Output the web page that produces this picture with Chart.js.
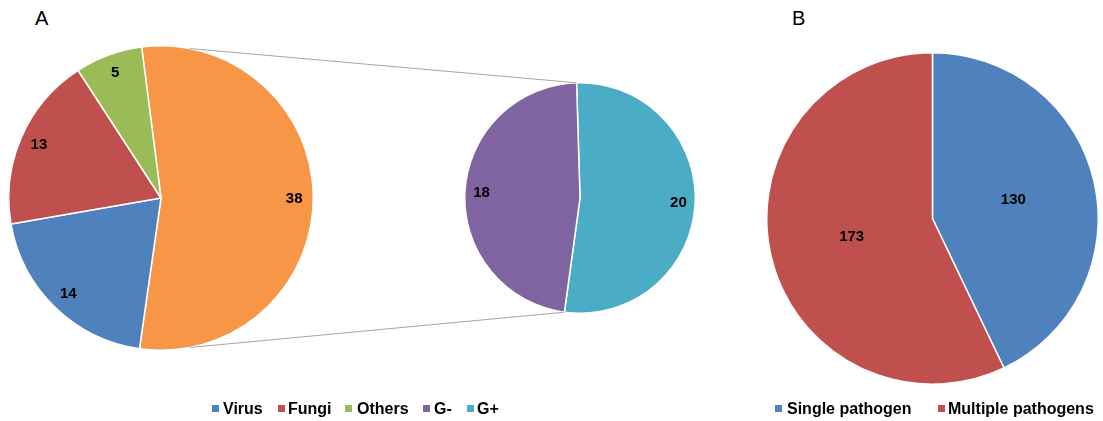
<!DOCTYPE html>
<html>
<head>
<meta charset="utf-8">
<script src="https://cdn.jsdelivr.net/npm/chart.js@4.4.0/dist/chart.umd.min.js"></script>
<style>
  html, body { margin: 0; padding: 0; background: #fff; }
  #stage { position: relative; width: 1103px; height: 421px; overflow: hidden; font-family: "Liberation Sans", Arial, sans-serif; }
  .box { position: absolute; }
  .title { position: absolute; font-size: 20px; color: #000; line-height: 1; }
  .leg { position: absolute; top: 401px; font-size: 16px; font-weight: bold; color: #000; line-height: 16px; white-space: nowrap; }
  .mk { position: absolute; top: 405px; width: 7px; height: 7px; }
  #overlay { position: absolute; left: 0; top: 0; pointer-events: none; }
</style>
</head>
<body>
<div id="stage">
  <div class="title" style="left:35px; top:8px;">A</div>
  <div class="title" style="left:792px; top:8px;">B</div>
  <div class="box" style="left:8px; top:45px; width:306px; height:306px;"><canvas id="cA"></canvas></div>
  <div class="box" style="left:464px; top:82px; width:232px; height:232px;"><canvas id="cG"></canvas></div>
  <div class="box" style="left:766px; top:52px; width:333px; height:333px;"><canvas id="cB"></canvas></div>
  <canvas id="overlay" width="1103" height="421"></canvas>
  <div id="legA"></div>
  <div id="legB"></div>
</div>
<script>
// ---- Data ----
const pieACategories = ["Bacteria", "Virus", "Fungi", "Others"];
const pieAValues = [38, 14, 13, 5];
const pieAColors = ["#F79646", "#4F81BD", "#C0504D", "#9BBB59"];

const bacteriaCategories = ["G+", "G-"];
const bacteriaValues = [20, 18];
const bacteriaColors = ["#4BACC6", "#8064A2"];

const pieBCategories = ["Single pathogen", "Multiple pathogens"];
const pieBValues = [130, 173];
const pieBColors = ["#4F81BD", "#C0504D"];

const legendALabels = ["Virus", "Fungi", "Others", "G-", "G+"];
const legendAColors = ["#4F81BD", "#C0504D", "#9BBB59", "#8064A2", "#4BACC6"];
const legendAMarkerX = [212, 278, 345, 423, 467];
const legendATextX = [223, 288, 357, 434, 477];

const legendBLabels = pieBCategories;
const legendBColors = pieBColors;
const legendBMarkerX = [775, 938];
const legendBTextX = [787, 948];

// ---- label plugin ----
const sliceLabels = {
  id: 'sliceLabels',
  afterDatasetsDraw(chart, args, opts) {
    const ctx = chart.ctx;
    const meta = chart.getDatasetMeta(0);
    const vals = chart.data.datasets[0].data;
    ctx.save();
    ctx.font = 'bold 15px "Liberation Sans", Arial, sans-serif';
    ctx.fillStyle = '#000';
    ctx.textAlign = 'center';
    ctx.textBaseline = 'middle';
    meta.data.forEach((arc, i) => {
      const p = arc.getProps(['x', 'y', 'startAngle', 'endAngle', 'outerRadius'], true);
      const mid = (p.startAngle + p.endAngle) / 2;
      const r = p.outerRadius * opts.frac;
      ctx.fillText(String(vals[i]), p.x + Math.cos(mid) * r, p.y + Math.sin(mid) * r);
    });
    ctx.restore();
  }
};

function makePie(id, labels, values, colors, rotation, frac) {
  return new Chart(document.getElementById(id), {
    type: 'pie',
    data: { labels, datasets: [{ data: values, backgroundColor: colors, borderColor: '#ffffff', borderWidth: 1.5 }] },
    options: {
      responsive: true,
      maintainAspectRatio: false,
      animation: false,
      rotation: rotation,
      layout: { padding: 0 },
      plugins: { legend: { display: false }, tooltip: { enabled: false }, sliceLabels: { frac } }
    },
    plugins: [sliceLabels]
  });
}

const chartA = makePie('cA', pieACategories, pieAValues, pieAColors, -7.3, 0.875);
const chartG = makePie('cG', bacteriaCategories, bacteriaValues, bacteriaColors, -1.7, 0.855);
const chartB = makePie('cB', pieBCategories, pieBValues, pieBColors, 0, 0.5);

// ---- connector lines (pie-of-pie) ----
function drawConnectors() {
  const ov = document.getElementById('overlay');
  const ctx = ov.getContext('2d');
  ctx.clearRect(0, 0, ov.width, ov.height);
  const stage = document.getElementById('stage').getBoundingClientRect();
  const ra = chartA.canvas.getBoundingClientRect();
  const rg = chartG.canvas.getBoundingClientRect();
  const a = chartA.getDatasetMeta(0).data[0].getProps(['x', 'y', 'outerRadius'], true);
  const gArcs = chartG.getDatasetMeta(0).data;
  const g0 = gArcs[0].getProps(['x', 'y', 'startAngle', 'endAngle', 'outerRadius'], true);
  const ax = ra.left - stage.left + a.x, ay = ra.top - stage.top + a.y;
  const gx = rg.left - stage.left + g0.x, gy = rg.top - stage.top + g0.y;
  const conn = 11 * Math.PI / 180;
  const aTop = [ax + Math.sin(conn) * a.outerRadius, ay - Math.cos(conn) * a.outerRadius];
  const aBot = [ax + Math.sin(conn) * a.outerRadius, ay + Math.cos(conn) * a.outerRadius];
  const gTop = [gx + Math.cos(g0.startAngle) * g0.outerRadius, gy + Math.sin(g0.startAngle) * g0.outerRadius];
  const gBot = [gx + Math.cos(g0.endAngle) * g0.outerRadius, gy + Math.sin(g0.endAngle) * g0.outerRadius];
  ctx.strokeStyle = '#A6A6A6';
  ctx.lineWidth = 1;
  ctx.beginPath();
  ctx.moveTo(aTop[0], aTop[1]); ctx.lineTo(gTop[0], gTop[1]);
  ctx.moveTo(aBot[0], aBot[1]); ctx.lineTo(gBot[0], gBot[1]);
  ctx.stroke();
}
drawConnectors();

// ---- legends ----
function buildLegend(containerId, labels, colors, markerX, textX) {
  const c = document.getElementById(containerId);
  labels.forEach((lab, i) => {
    const m = document.createElement('div');
    m.className = 'mk';
    m.style.left = markerX[i] + 'px';
    m.style.background = colors[i];
    c.appendChild(m);
    const t = document.createElement('div');
    t.className = 'leg';
    t.style.left = textX[i] + 'px';
    t.textContent = lab;
    c.appendChild(t);
  });
}
buildLegend('legA', legendALabels, legendAColors, legendAMarkerX, legendATextX);
buildLegend('legB', legendBLabels, legendBColors, legendBMarkerX, legendBTextX);
</script>
</body>
</html>
